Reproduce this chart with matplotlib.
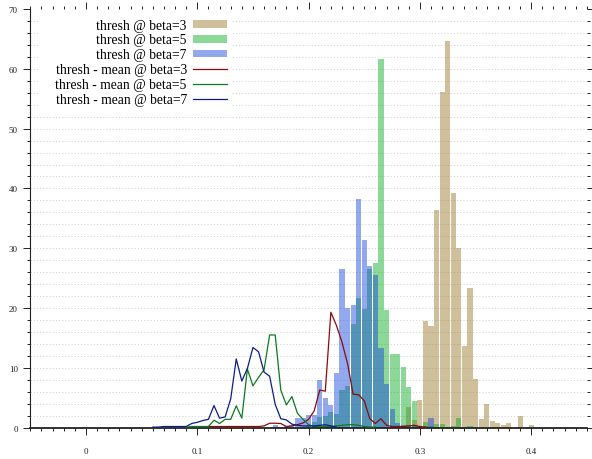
import numpy as np
import matplotlib
matplotlib.use("Agg")
import matplotlib.pyplot as plt
from matplotlib.ticker import MultipleLocator, FuncFormatter
from matplotlib.patches import Rectangle

# ---- data (bin centres, bin width 0.005) ----
b3_x = [0.290, 0.295, 0.300, 0.305, 0.310, 0.315, 0.320, 0.325, 0.330, 0.335, 0.340,
        0.345, 0.350, 0.355, 0.360, 0.365, 0.370, 0.375, 0.380, 0.390, 0.400]
b3_y = [3.5, 1.3, 4.6, 17.8, 17.0, 36.4, 56.1, 64.6, 39.2, 30.0, 13.6,
        23.3, 8.1, 1.4, 3.9, 1.1, 0.75, 0.4, 0.75, 1.9, 0.4]

b5_x = [0.200, 0.205, 0.210, 0.215, 0.220, 0.225, 0.230, 0.235, 0.240, 0.245, 0.250,
        0.255, 0.260, 0.265, 0.270, 0.275, 0.280, 0.285, 0.290, 0.295, 0.300, 0.305,
        0.310, 0.315, 0.320, 0.325, 0.330, 0.335, 0.340, 0.345]
b5_y = [0.5, 1.0, 1.8, 1.9, 2.6, 2.3, 6.3, 6.9, 17.3, 21.7, 19.8,
        26.5, 27.5, 61.6, 19.6, 12.4, 12.4, 10.1, 6.8, 4.5, 0.3, 0.9,
        0.3, 0.6, 0.7, 0.2, 0.3, 1.6, 0.2, 0.3]

b7_x = [0.170, 0.175, 0.180, 0.185, 0.190, 0.195, 0.200, 0.205, 0.210, 0.215, 0.220,
        0.225, 0.230, 0.235, 0.240, 0.245, 0.250, 0.255, 0.260, 0.265, 0.270, 0.275,
        0.280, 0.285, 0.290, 0.295, 0.300, 0.305, 0.310, 0.315]
b7_y = [0.5, 0.2, 0.3, 0.5, 1.6, 1.6, 2.1, 2.1, 7.9, 4.9, 3.8,
        9.2, 26.5, 20.0, 20.5, 38.3, 31.4, 27.0, 25.5, 13.3, 7.3, 3.1,
        0.8, 0.5, 0.5, 0.3, 0.3, 0.3, 1.6, 0.2]

m3_x = [0.110, 0.115, 0.120, 0.125, 0.130, 0.135, 0.140, 0.145, 0.150, 0.155, 0.160,
        0.165, 0.170, 0.175, 0.180, 0.185, 0.190, 0.195, 0.200, 0.205, 0.210, 0.215,
        0.220, 0.225, 0.230, 0.235, 0.240, 0.245, 0.250, 0.255, 0.260, 0.265, 0.270,
        0.275, 0.280, 0.285, 0.290, 0.295, 0.300, 0.305]
m3_y = [0.2, 0.2, 0.2, 0.2, 0.2, 0.2, 0.2, 0.2, 0.2, 0.2, 0.3,
        0.75, 0.75, 0.7, 0.2, 0.3, 0.5, 0.8, 1.4, 2.8, 6.3, 6.1,
        19.3, 17.1, 14.3, 10.7, 5.6, 5.5, 4.5, 1.5, 0.7, 1.5, 0.4,
        0.2, 0.2, 0.2, 0.3, 0.4, 0.2, 0.1]

m5_x = [0.090, 0.095, 0.100, 0.105, 0.110, 0.115, 0.120, 0.125, 0.130, 0.135, 0.140,
        0.145, 0.150, 0.155, 0.160, 0.165, 0.170, 0.175, 0.180, 0.185, 0.190, 0.195,
        0.200, 0.205, 0.210, 0.215, 0.220, 0.225, 0.230, 0.235, 0.240, 0.245, 0.250,
        0.255, 0.260]
m5_y = [0.1, 0.2, 0.2, 0.2, 0.2, 1.25, 0.7, 1.4, 1.4, 3.65, 1.6,
        9.8, 7.0, 8.4, 9.7, 15.5, 15.5, 6.3, 3.8, 5.2, 2.4, 1.4,
        0.5, 0.2, 0.2, 0.2, 0.2, 0.3, 0.4, 0.5, 0.5, 0.4, 0.2,
        0.1, 0.1]

m7_x = [0.060, 0.065, 0.070, 0.075, 0.080, 0.085, 0.090, 0.095, 0.100, 0.105, 0.110,
        0.115, 0.120, 0.125, 0.130, 0.135, 0.140, 0.145, 0.150, 0.155, 0.160, 0.165,
        0.170, 0.175, 0.180, 0.185, 0.190, 0.195, 0.200, 0.205, 0.210, 0.215, 0.220,
        0.225]
m7_y = [0.1, 0.1, 0.2, 0.2, 0.2, 0.2, 0.2, 0.7, 0.9, 1.2, 1.4,
        3.7, 1.6, 1.8, 4.8, 11.5, 7.8, 9.9, 13.4, 12.7, 9.3, 8.6,
        3.9, 1.5, 1.3, 0.6, 0.4, 0.3, 0.3, 0.3, 0.4, 0.5, 0.3,
        0.1]

labels = ["thresh @ beta=3", "thresh @ beta=5", "thresh @ beta=7",
          "thresh - mean @ beta=3", "thresh - mean @ beta=5", "thresh - mean @ beta=7"]

plt.rcParams['font.family'] = ['Liberation Serif', 'DejaVu Serif']

W, H = 592, 460
fig = plt.figure(figsize=(W / 100, H / 100), dpi=100)
ax = fig.add_axes([30.35 / W, 31.3 / H, 556.5 / W, 418.7 / H])

alpha = 0.45
bw = 0.0046
h3 = ax.bar(b3_x, b3_y, width=bw, color='#95731f', alpha=alpha, linewidth=0, zorder=2)
h5 = ax.bar(b5_x, b5_y, width=bw, color='#00a91b', alpha=alpha, linewidth=0, zorder=2)
h7 = ax.bar(b7_x, b7_y, width=bw, color='#0f40de', alpha=alpha, linewidth=0, zorder=2)
l3, = ax.plot(m3_x, m3_y, color='#8b0a0a', lw=0.9, zorder=3)
l5, = ax.plot(m5_x, m5_y, color='#0b7a22', lw=0.9, zorder=3)
l7, = ax.plot(m7_x, m7_y, color='#0a1f82', lw=0.9, zorder=3)

ax.set_xlim(-0.05, 0.45)
ax.set_ylim(0, 70)

ax.xaxis.set_major_locator(MultipleLocator(0.1))
ax.xaxis.set_minor_locator(MultipleLocator(0.01))
ax.yaxis.set_major_locator(MultipleLocator(10))
ax.yaxis.set_minor_locator(MultipleLocator(2))
ax.xaxis.set_major_formatter(FuncFormatter(lambda v, p: "0" if abs(v) < 1e-9 else ("%g" % round(v, 3))))

for s in ['top', 'right']:
    ax.spines[s].set_visible(False)
ax.spines['bottom'].set_linewidth(1.3)
ax.spines['bottom'].set_color('#222222')
ax.spines['left'].set_linewidth(0.8)
ax.spines['left'].set_color('#222222')

ax.tick_params(which='both', direction='out', top=True, right=True, colors='#222222',
               labelsize=6.5, width=0.7)
ax.tick_params(which='major', length=5)
ax.tick_params(which='minor', length=2.3)
ax.tick_params(axis='x', which='major', pad=9)
ax.tick_params(axis='y', which='major', pad=4)

ax.grid(True, axis='y', which='both', linestyle=(0, (1.3, 2.2)), color='#d2d2d2', lw=0.65, zorder=0)
ax.set_axisbelow(True)
fig.canvas.draw()
for t in list(ax.yaxis.get_major_ticks()) + list(ax.yaxis.get_minor_ticks()):
    if abs(t.get_loc() - 70) < 1e-6:
        t.gridline.set_visible(False)

# opaque key box (hides grid behind the key, like the original)
ax.add_patch(Rectangle((38 / W, 1 - 110 / H), (232 - 38) / W, (110 - 12) / H,
                       transform=fig.transFigure, facecolor='white', edgecolor='none', zorder=1))

leg = ax.legend([h3, h5, h7, l3, l5, l7], labels, loc='upper right',
                bbox_to_anchor=(231 / W, 1 - 15.5 / H), bbox_transform=fig.transFigure,
                markerfirst=False, frameon=False, fontsize=9.8,
                handlelength=2.5, handleheight=0.5, handletextpad=0.45,
                labelspacing=0.14, borderpad=0.3, borderaxespad=0)
for t in leg.get_texts():
    t.set_ha('right')
leg.set_zorder(5)

fig.savefig("out.png", dpi=100)
